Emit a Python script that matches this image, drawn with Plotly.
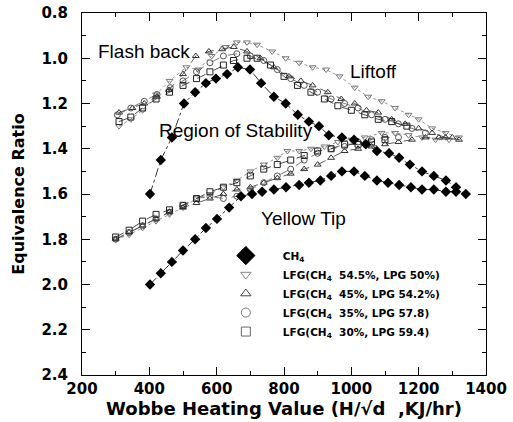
import plotly.graph_objects as go

# ---- data ----
ch4_up_x = [402, 434, 467, 503, 536, 568, 598, 631, 663, 699, 732, 770, 805, 841, 874, 904, 933, 972, 1008, 1043, 1076, 1112, 1142, 1174, 1210, 1245, 1281, 1311]
ch4_up_y = [1.60, 1.45, 1.35, 1.20, 1.15, 1.11, 1.09, 1.07, 1.04, 1.05, 1.11, 1.17, 1.20, 1.25, 1.28, 1.30, 1.34, 1.35, 1.36, 1.38, 1.41, 1.42, 1.44, 1.47, 1.50, 1.52, 1.54, 1.57]
ch4_lo_x = [402, 434, 467, 500, 536, 568, 601, 637, 672, 705, 735, 770, 806, 845, 874, 908, 940, 972, 1008, 1040, 1076, 1109, 1142, 1177, 1210, 1245, 1281, 1311, 1340]
ch4_lo_y = [2.00, 1.95, 1.90, 1.85, 1.80, 1.75, 1.71, 1.66, 1.61, 1.60, 1.59, 1.58, 1.57, 1.56, 1.55, 1.54, 1.52, 1.50, 1.50, 1.52, 1.54, 1.55, 1.56, 1.57, 1.58, 1.58, 1.59, 1.59, 1.60]

s1_up_x = [310, 345, 380, 420, 460, 510, 545, 585, 627, 660, 690, 720, 765, 805, 845, 885, 925, 965, 1010, 1050, 1090, 1130, 1170, 1200, 1240, 1280, 1320]
s1_up_y = [1.30, 1.27, 1.23, 1.16, 1.10, 1.04, 1.05, 0.99, 0.95, 0.93, 0.93, 0.94, 0.97, 1.00, 1.02, 1.04, 1.05, 1.08, 1.13, 1.17, 1.19, 1.22, 1.25, 1.27, 1.31, 1.33, 1.35]
s1_lo_x = [300, 340, 380, 420, 460, 500, 540, 580, 620, 660, 700, 740, 780, 810, 845, 880, 920, 960, 1000, 1040, 1090, 1130, 1170, 1210, 1250, 1290]
s1_lo_y = [1.80, 1.78, 1.75, 1.72, 1.69, 1.66, 1.62, 1.60, 1.57, 1.54, 1.50, 1.47, 1.44, 1.41, 1.41, 1.40, 1.39, 1.37, 1.36, 1.35, 1.33, 1.33, 1.34, 1.35, 1.36, 1.36]

s2_up_x = [310, 350, 385, 423, 458, 500, 538, 577, 616, 651, 690, 730, 770, 815, 850, 885, 930, 970, 1010, 1045, 1080, 1120, 1160, 1200, 1240, 1280, 1320]
s2_up_y = [1.24, 1.22, 1.20, 1.17, 1.14, 1.07, 0.99, 0.97, 0.96, 0.95, 0.97, 1.00, 1.04, 1.08, 1.10, 1.12, 1.15, 1.18, 1.20, 1.23, 1.24, 1.27, 1.29, 1.31, 1.33, 1.35, 1.36]
s2_lo_x = [300, 340, 380, 420, 460, 500, 540, 580, 620, 660, 700, 740, 780, 820, 860, 900, 940, 980, 1020, 1060, 1100, 1140, 1180, 1220, 1260, 1300]
s2_lo_y = [1.80, 1.77, 1.74, 1.71, 1.68, 1.66, 1.64, 1.62, 1.60, 1.58, 1.57, 1.55, 1.53, 1.51, 1.49, 1.47, 1.44, 1.41, 1.40, 1.39, 1.38, 1.37, 1.36, 1.35, 1.35, 1.35]

s3_up_x = [305, 345, 385, 423, 462, 500, 540, 580, 620, 660, 700, 740, 780, 820, 860, 900, 940, 980, 1020, 1060, 1100, 1140, 1180, 1220]
s3_up_y = [1.25, 1.22, 1.19, 1.16, 1.13, 1.10, 1.06, 1.02, 0.99, 0.98, 0.99, 1.01, 1.05, 1.09, 1.12, 1.15, 1.18, 1.20, 1.22, 1.25, 1.27, 1.29, 1.31, 1.33]
s3_lo_x = [300, 340, 380, 420, 460, 500, 540, 580, 620, 660, 700, 740, 780, 820, 860, 900, 940, 980, 1020, 1060, 1100, 1140]
s3_lo_y = [1.80, 1.77, 1.74, 1.71, 1.68, 1.65, 1.62, 1.61, 1.62, 1.61, 1.58, 1.55, 1.52, 1.49, 1.45, 1.42, 1.40, 1.39, 1.37, 1.36, 1.35, 1.35]

s4_up_x = [310, 345, 380, 420, 460, 500, 540, 580, 620, 650, 690, 720, 760, 800, 840, 880, 920, 960, 1000, 1040, 1080, 1120, 1165]
s4_up_y = [1.28, 1.26, 1.22, 1.18, 1.15, 1.12, 1.09, 1.06, 1.03, 1.01, 1.00, 1.00, 1.03, 1.08, 1.12, 1.15, 1.18, 1.21, 1.23, 1.25, 1.27, 1.28, 1.30]
s4_lo_x = [300, 340, 380, 420, 460, 500, 540, 580, 620, 660, 700, 740, 780, 820, 860, 900, 940, 980, 1020, 1060, 1100]
s4_lo_y = [1.79, 1.76, 1.72, 1.69, 1.67, 1.65, 1.62, 1.59, 1.57, 1.55, 1.52, 1.49, 1.47, 1.45, 1.43, 1.41, 1.40, 1.38, 1.38, 1.37, 1.36]

names = ["CH<sub>4</sub>",
         "LFG(CH<sub>4</sub>  54.5%, LPG 50%)",
         "LFG(CH<sub>4</sub>  45%, LPG 54.2%)",
         "LFG(CH<sub>4</sub>  35%, LPG 57.8)",
         "LFG(CH<sub>4</sub>  30%, LPG 59.4)"]

x_ticks = [200, 400, 600, 800, 1000, 1200, 1400]
y_ticks = [0.8, 1.0, 1.2, 1.4, 1.6, 1.8, 2.0, 2.2, 2.4]


def join(ax, ay, bx, by):
    return ax + [None] + bx, ay + [None] + by


fig = go.Figure()

lfg = [
    (s1_up_x, s1_up_y, s1_lo_x, s1_lo_y, "triangle-down-open", "#777777", "dot"),
    (s2_up_x, s2_up_y, s2_lo_x, s2_lo_y, "triangle-up-open", "#333333", "dash"),
    (s3_up_x, s3_up_y, s3_lo_x, s3_lo_y, "circle-open", "#555555", "dash"),
    (s4_up_x, s4_up_y, s4_lo_x, s4_lo_y, "square-open", "#222222", "dash"),
]
for ax, ay, bx, by, sym, col, dash in lfg:
    xx, yy = join(ax, ay, bx, by)
    fig.add_trace(go.Scatter(x=xx, y=yy, mode="lines+markers", showlegend=False,
                             line=dict(color=col, width=0.8, dash=dash),
                             marker=dict(symbol=sym, size=6, color=col, line=dict(width=1, color=col))))

xx, yy = join(ch4_up_x, ch4_up_y, ch4_lo_x, ch4_lo_y)
fig.add_trace(go.Scatter(x=xx, y=yy, mode="lines+markers", showlegend=False,
                         line=dict(color="black", width=0.8, dash="dashdot"),
                         marker=dict(symbol="diamond", size=8, color="black")))

# legend-only entries (markers only, as in the reference)
leg_styles = [("diamond", 14, "black"), ("triangle-down-open", 9, "#888888"),
              ("triangle-up-open", 9, "#444444"), ("circle-open", 9, "#777777"),
              ("square-open", 9, "#666666")]
for nm, (sym, sz, col) in zip(names, leg_styles):
    fig.add_trace(go.Scatter(x=[None], y=[None], mode="markers", name=nm,
                             marker=dict(symbol=sym, size=sz, color=col, line=dict(width=1, color=col))))

ann_font = dict(family="Liberation Sans, Arial", size=19, color="black")
for txt, ax_, ay_ in [("Flash back", 384, 0.97), ("Liftoff", 1067, 1.06),
                      ("Region of Stability", 657, 1.32), ("Yellow Tip", 859, 1.71)]:
    fig.add_annotation(x=ax_, y=ay_, text=txt, showarrow=False, font=ann_font)

tick_font = dict(family="DejaVu Sans, Liberation Sans", size=15, color="black", weight="bold")
title_font = dict(family="DejaVu Sans, Liberation Sans", size=16, color="black", weight="bold")

axis_common = dict(showline=True, linecolor="black", linewidth=1, mirror="allticks",
                   ticks="inside", ticklen=8, tickcolor="black", showgrid=False, zeroline=False,
                   tickfont=tick_font, automargin=False)

fig.update_xaxes(range=[200, 1400], tickvals=x_ticks, ticklabelstandoff=0,
                 minor=dict(ticks="inside", ticklen=4, dtick=100, tickcolor="black"),
                 title=dict(text="Wobbe Heating Value (H/\u221ad  ,KJ/hr)", standoff=0,
                            font=dict(family="DejaVu Sans, Liberation Sans", size=18, color="black", weight="bold")),
                 **axis_common)
fig.update_yaxes(range=[2.4, 0.8], tickvals=y_ticks, tickformat=".1f", ticklabelstandoff=10,
                 minor=dict(ticks="inside", ticklen=4, dtick=0.1, tickcolor="black"),
                 title=dict(text="Equivalence Ratio", standoff=12, font=title_font),
                 **axis_common)

fig.update_layout(width=513, height=422, margin=dict(l=82, r=27, t=13, b=47),
                  paper_bgcolor="white", plot_bgcolor="white",
                  legend=dict(x=0.314, y=0.37, xanchor="left", yanchor="top",
                              bgcolor="rgba(0,0,0,0)", tracegroupgap=0, itemwidth=64,
                              font=dict(family="DejaVu Sans, Liberation Sans", size=10.5,
                                        color="black", weight="bold")),
                  showlegend=True)

fig.write_html("out.html")
